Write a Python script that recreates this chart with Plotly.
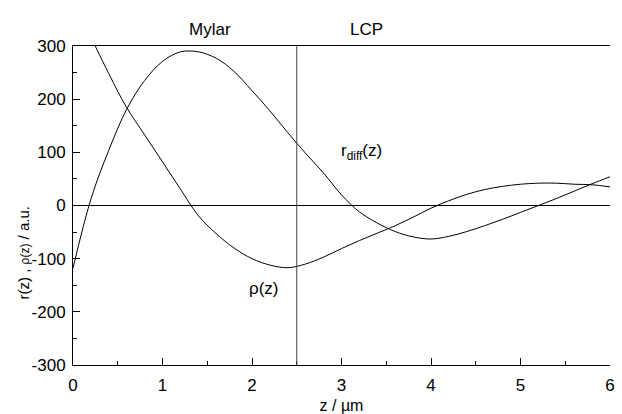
import plotly.graph_objects as go

z = [round(0.2 * i, 1) for i in range(31)]

# r_diff(z), read at z = 0, 0.2, ..., 6
y_rdiff = [-118, 12, 104, 181, 235, 271, 289, 289, 277, 252, 216, 178, 137, 98, 61, 20,
           -12, -33, -49, -59, -63, -58, -49, -38, -26, -13, 0, 13, 27, 41, 54]

# rho(z), read at z = 0, 0.2, ..., 6 (first value is above the frame)
y_rho = [400, 318, 248, 184, 133, 82, 31, -19, -53, -80, -100, -112, -117, -110, -97, -81,
         -66, -52, -38, -22, -5, 9, 21, 30, 36, 40, 42, 42, 40, 39, 35]

x_ticks = [0, 1, 2, 3, 4, 5, 6]
y_ticks = [-300, -200, -100, 0, 100, 200, 300]
y_ticktext = ["-300", "-200", "-100", "0", "100", "200", "300"]

FONT = "Liberation Sans, Arial, sans-serif"

fig = go.Figure()
fig.add_trace(go.Scatter(x=z, y=y_rdiff, mode="lines", line=dict(color="black", width=1, shape="spline", smoothing=1), showlegend=False))
fig.add_trace(go.Scatter(x=z, y=y_rho, mode="lines", line=dict(color="black", width=1, shape="spline", smoothing=1), showlegend=False))

fig.add_shape(type="line", x0=2.5, x1=2.5, y0=-300, y1=300, xref="x", yref="y", line=dict(color="#444", width=1))

fig.add_annotation(x=1.53, y=1.088, yref="paper", text="Mylar", showarrow=False, font=dict(size=17, color="black", family=FONT))
fig.add_annotation(x=3.28, y=1.088, yref="paper", text="LCP", showarrow=False, font=dict(size=17, color="black", family=FONT))
fig.add_annotation(x=3.22, y=100, text="r<sub>diff</sub>(z)", showarrow=False, font=dict(size=17, color="black", family=FONT))
fig.add_annotation(x=2.13, y=-157, text="ρ(z)", showarrow=False, font=dict(size=17, color="black", family=FONT))
fig.add_annotation(x=-0.093, y=0.35, xref="paper", yref="paper", xanchor="center", yanchor="middle",
                   textangle=-90, showarrow=False,
                   text="r(z) , <span style='font-size:12px'>ρ(z)</span> / a.u.",
                   font=dict(size=15, color="black", family=FONT))

fig.update_layout(
    width=622, height=414,
    margin=dict(l=73, r=12, t=46, b=49),
    paper_bgcolor="white", plot_bgcolor="white",
    font=dict(family=FONT, size=17, color="black"),
    xaxis=dict(range=[0, 6], tickvals=x_ticks, ticks="inside", ticklen=7, tickcolor="black",
               minor=dict(ticks="inside", ticklen=4, dtick=0.5, tickcolor="black"),
               ticklabelstandoff=5, automargin=False,
               showline=True, linecolor="black", linewidth=1, mirror=True, showgrid=False, zeroline=False,
               title=dict(text="z / µm", standoff=6, font=dict(size=16))),
    yaxis=dict(range=[-300, 300], tickvals=y_ticks, ticktext=y_ticktext, ticks="inside", ticklen=7, tickcolor="black",
               minor=dict(ticks="inside", ticklen=4, dtick=50, tickcolor="black"),
               ticklabelstandoff=3, automargin=False,
               showline=True, linecolor="black", linewidth=1, showgrid=False,
               zeroline=True, zerolinecolor="black", zerolinewidth=1),
)

fig.write_html("out.html")
